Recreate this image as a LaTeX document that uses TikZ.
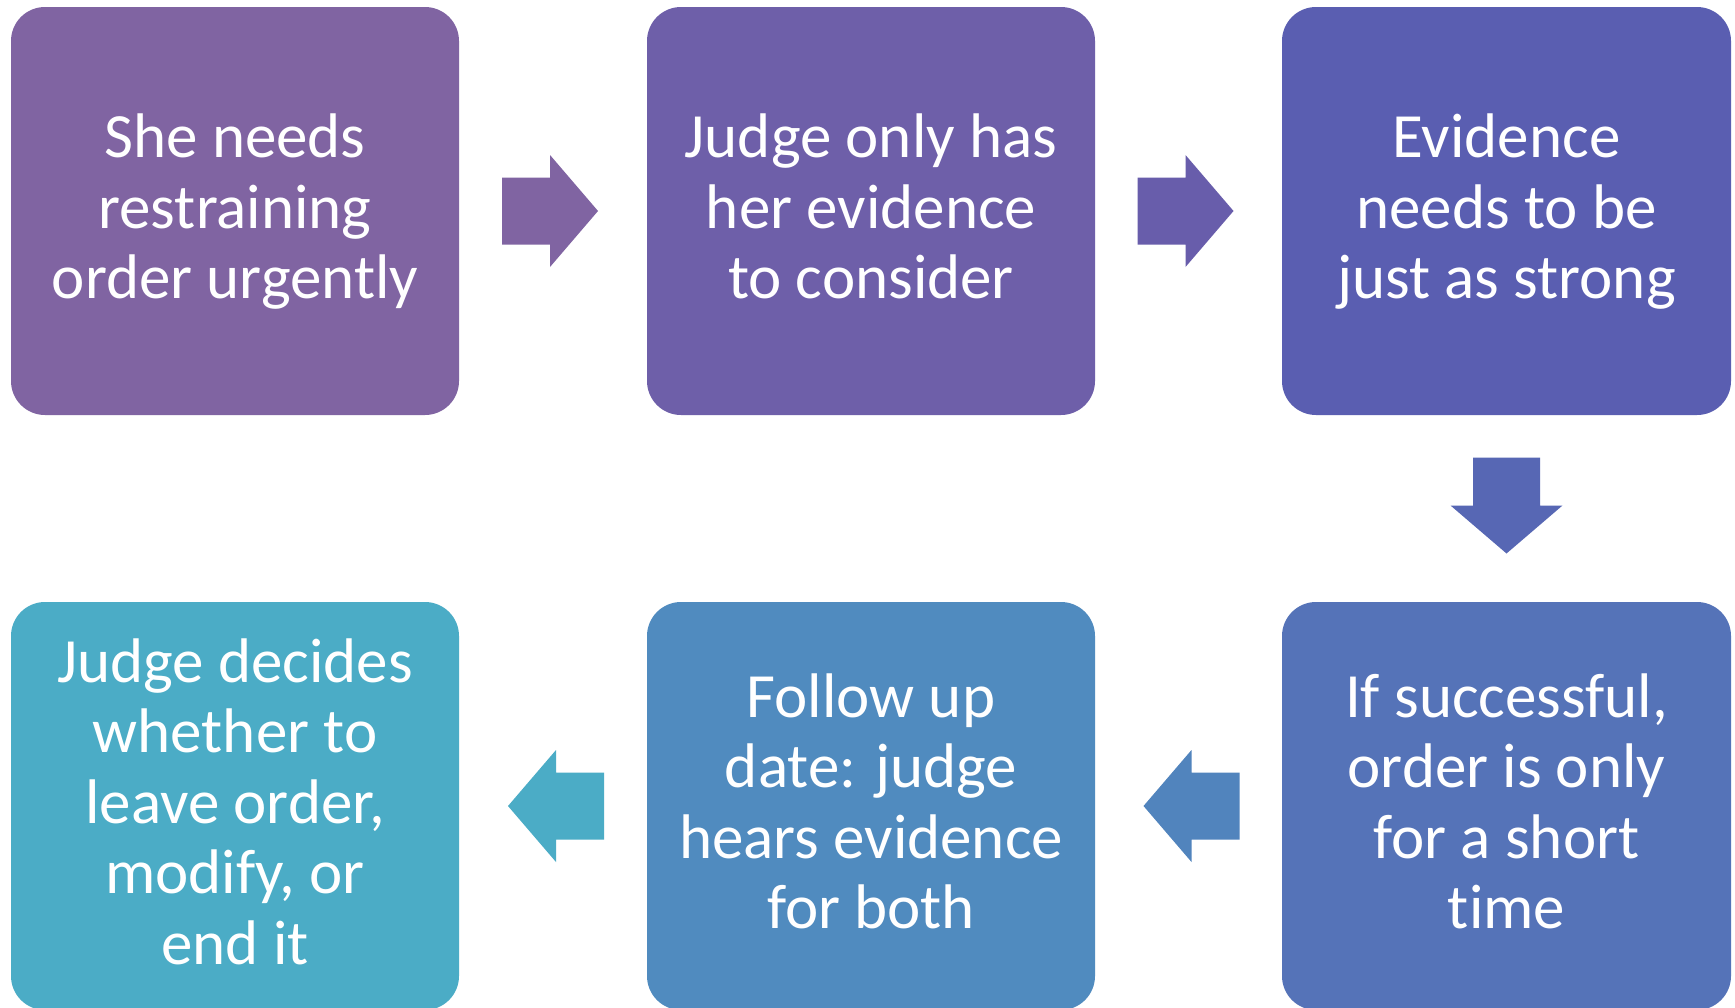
\documentclass[tikz,border=0pt]{standalone}
\usepackage{fontspec}
\setmainfont{Carlito}[Ligatures=NoCommon]
\usetikzlibrary{calc}
\definecolor{c1}{HTML}{8064A2}
\definecolor{c2}{HTML}{6E5FA9}
\definecolor{c3}{HTML}{5A5EB1}
\definecolor{c4}{HTML}{5573B8}
\definecolor{c5}{HTML}{508BBF}
\definecolor{c6}{HTML}{4BACC6}
\definecolor{a1}{HTML}{8064A2}
\definecolor{a2}{HTML}{685DAB}
\definecolor{a3}{HTML}{5767B4}
\definecolor{a4}{HTML}{5184BD}
\definecolor{a5}{HTML}{4BACC6}
\newcommand\topst{\rule{0pt}{50pt}}
\newcommand\botst{\rule[-16pt]{0pt}{16pt}}
\tikzset{
  stepbox/.style={rectangle, rounded corners=34pt, minimum width=448pt, minimum height=408pt,
    inner sep=0pt, text=white, align=center, font=\fontsize{63}{70.5}\selectfont},
  barrow/.pic={\fill (-48,-33.5) -- (0,-33.5) -- (0,-56) -- (48,0) -- (0,56) -- (0,33.5) -- (-48,33.5) -- cycle;}
}
\begin{document}
\begin{tikzpicture}[x=1pt,y=-1pt]
\clip (0,0) rectangle (1735,1007);
\fill[white] (0,0) rectangle (1735,1007);
\node[stepbox, fill=c1] (b1) at (235,211) {\topst She needs\\restraining\\order urgently\botst};
\node[stepbox, fill=c2] (b2) at (871,211) {\topst Judge only has\\her evidence\\to consider\botst};
\node[stepbox, fill=c3, minimum width=449pt] (b3) at (1506.5,211) {\topst Evidence\\needs to be\\just as strong\botst};
\node[stepbox, fill=c4, minimum width=449pt] (b4) at (1506.5,806) {\topst If successful,\\order is only\\for a short\\time\botst};
\node[stepbox, fill=c5] (b5) at (871,806) {\topst Follow up\\date: judge\\hears evidence\\for both\botst};
\node[stepbox, fill=c6] (b6) at (235,806) {\topst Judge decides\\whether to\\leave order,\\modify, or\\end it\botst};
\coordinate (m1) at ($($(b1.east)!0.5!(b2.west)$)+(-3,0)$);
\coordinate (m2) at ($($(b2.east)!0.5!(b3.west)$)+(-3,0)$);
\coordinate (m3) at ($($(b3.south)!0.5!(b4.north)$)+(0,-3)$);
\coordinate (m4) at ($($(b4.west)!0.5!(b5.east)$)+(3,0)$);
\coordinate (m5) at ($($(b5.west)!0.5!(b6.east)$)+(3,0)$);
\pic[fill=a1] at (m1) {barrow};
\pic[fill=a2] at (m2) {barrow};
\pic[fill=a3, rotate=-90] at (m3) {barrow};
\pic[fill=a4, rotate=180] at (m4) {barrow};
\pic[fill=a5, rotate=180] at (m5) {barrow};
\end{tikzpicture}
\end{document}
